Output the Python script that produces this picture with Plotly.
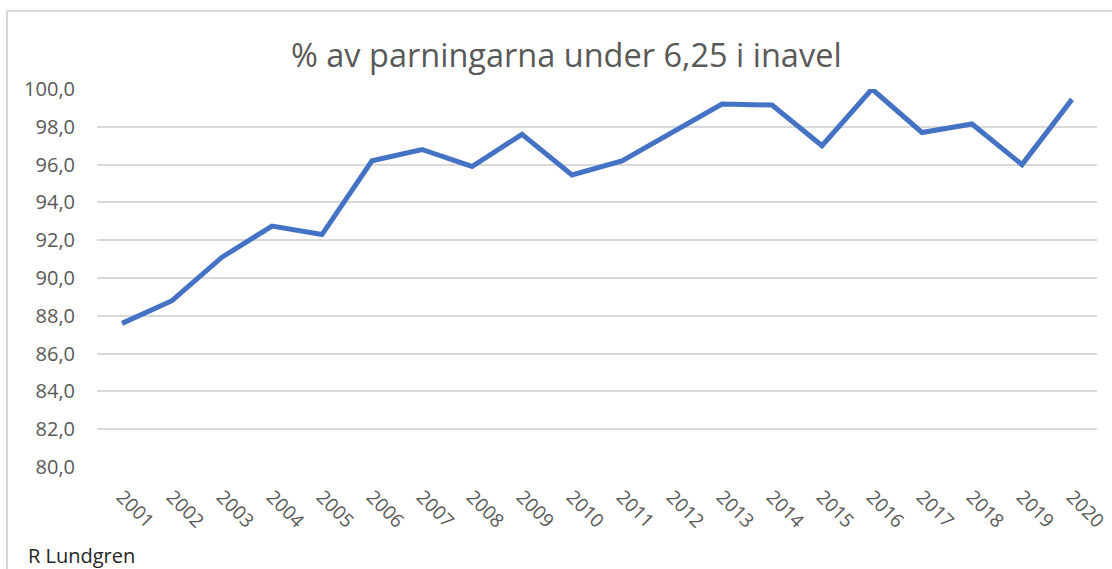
import plotly.graph_objects as go

years = [str(y) for y in range(2001, 2021)]
values = [87.6, 88.8, 91.1, 92.75, 92.3, 96.2, 96.8, 95.9, 97.6, 95.45,
          96.2, 97.7, 99.2, 99.15, 97.0, 100.0, 97.7, 98.15, 96.0, 99.45]
y_ticks = [80, 82, 84, 86, 88, 90, 92, 94, 96, 98, 100]
title_text = "% av parningarna under 6,25 i inavel"
credit_text = "R Lundgren"

W, H = 1112, 569
L, R, T, B = 97, 15, 89, 102
pw, ph = W - L - R, H - T - B


def px_x(x):
    return (x - L) / pw


def px_y(y):
    return (H - B - y) / ph


fig = go.Figure()
fig.add_trace(go.Scatter(
    x=years, y=values, mode="lines",
    line=dict(color="#4472C4", width=5, shape="linear"),
    cliponaxis=False, hoverinfo="x+y",
))

font_family = "Open Sans, Noto Sans, Liberation Sans, sans-serif"
grey = "#595959"

fig.update_layout(
    width=W, height=H,
    margin=dict(l=L, r=R, t=T, b=B, pad=0, autoexpand=False),
    paper_bgcolor="white", plot_bgcolor="white",
    showlegend=False,
    separators=", ",
    font=dict(family=font_family, color=grey, size=19),
    xaxis=dict(
        type="category", range=[-0.5, 19.5], automargin=False,
        showgrid=False, showline=False, zeroline=False,
        tickangle=45, ticks="", ticklabelstandoff=14,
        tickfont=dict(size=19, color=grey),
    ),
    yaxis=dict(
        range=[80, 100], tickvals=y_ticks, tickformat=".1f", automargin=False,
        showgrid=True, gridcolor="#d9d9d9", gridwidth=1.5,
        showline=False, zeroline=False, ticks="",
        ticklabelstandoff=21,
        tickfont=dict(size=20, color=grey),
    ),
    shapes=[dict(
        type="rect", xref="paper", yref="paper",
        x0=px_x(7), x1=px_x(1125), y0=px_y(590), y1=px_y(11),
        line=dict(color="#d9d9d9", width=2), fillcolor="rgba(0,0,0,0)",
        layer="below",
    )],
    annotations=[
        dict(text=title_text, xref="paper", yref="paper",
             x=px_x(566), y=px_y(55), xanchor="center", yanchor="middle",
             showarrow=False,
             font=dict(family=font_family, size=32.5, color=grey)),
        dict(text=credit_text, xref="paper", yref="paper",
             x=px_x(26), y=px_y(555), xanchor="left", yanchor="middle",
             showarrow=False,
             font=dict(family=font_family, size=20, color="#262626")),
    ],
)

fig.write_html(
    "out.html",
    config={"displayModeBar": False},
    post_script="document.body.style.margin='0';document.body.style.overflow='hidden';",
)
